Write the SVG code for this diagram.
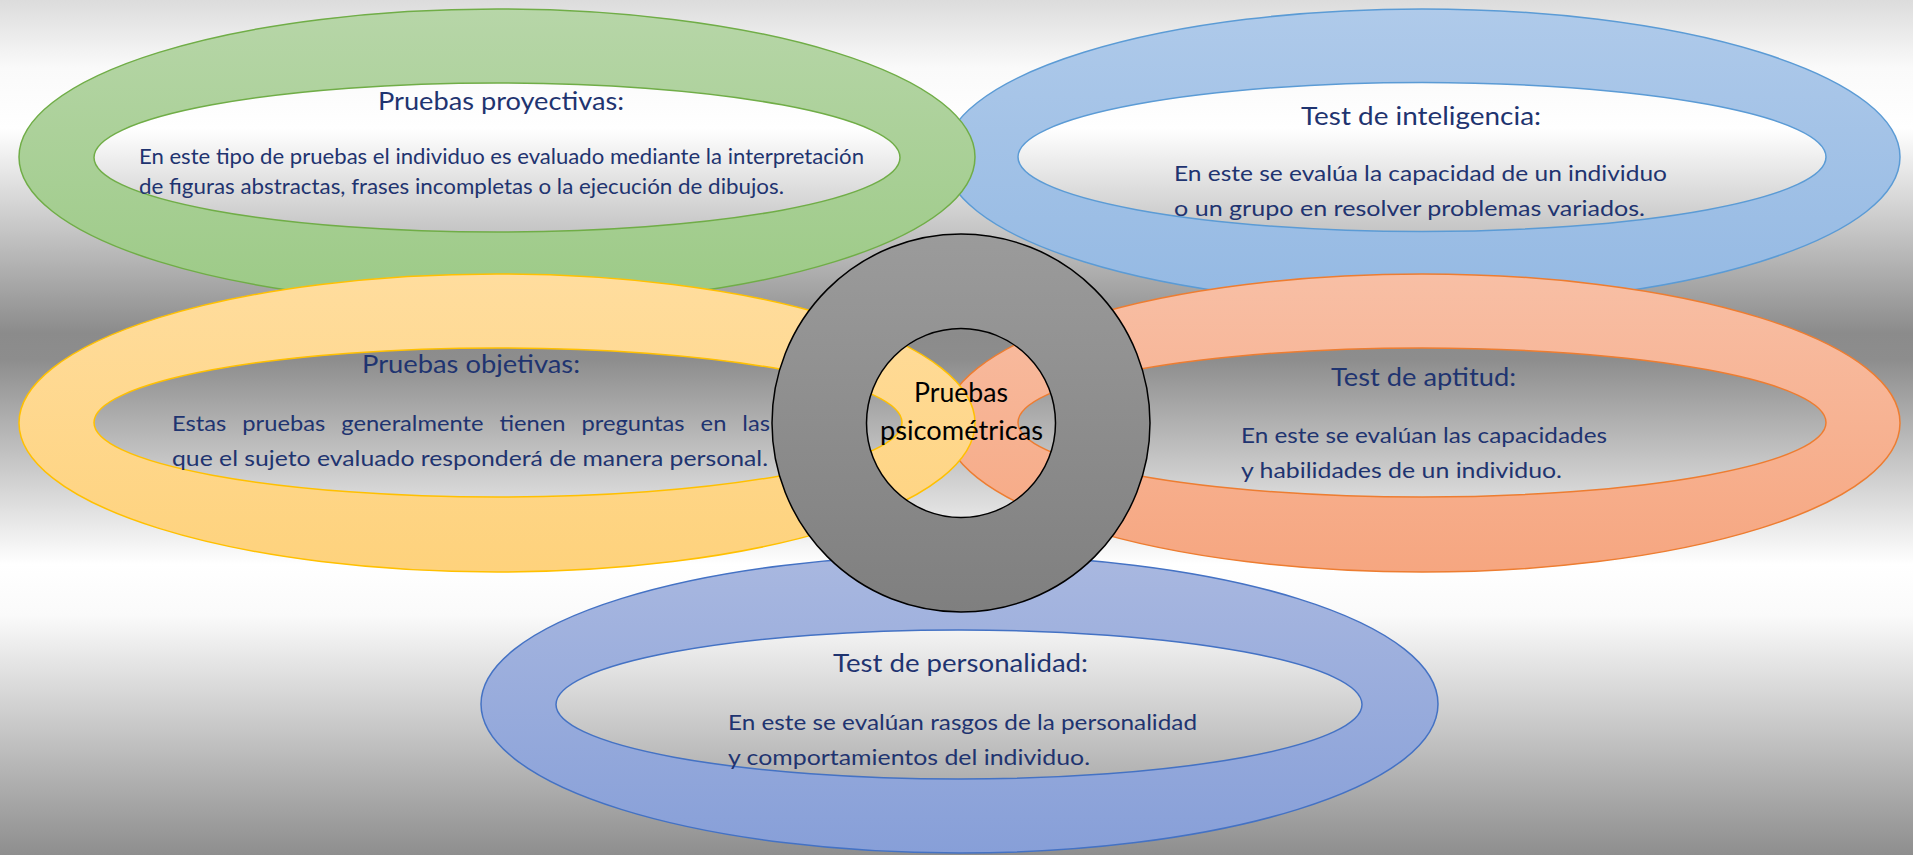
<svg xmlns="http://www.w3.org/2000/svg" width="1913" height="855" viewBox="0 0 1913 855">
  <defs>
    <linearGradient id="bg" x1="0" y1="0" x2="0" y2="855" gradientUnits="userSpaceOnUse">
      <stop offset="0" stop-color="#dcdcdc"/>
      <stop offset="0.08" stop-color="#fafafa"/>
      <stop offset="0.15" stop-color="#ffffff"/>
      <stop offset="0.39" stop-color="#8b8b8b"/>
      <stop offset="0.42" stop-color="#8d8d8d"/>
      <stop offset="0.66" stop-color="#ffffff"/>
      <stop offset="0.72" stop-color="#fafafa"/>
      <stop offset="1" stop-color="#8e8e8e"/>
    </linearGradient>
    <linearGradient id="gGreen" x1="0" y1="0" x2="0" y2="1">
      <stop offset="0" stop-color="#b7d6a8"/>
      <stop offset="1" stop-color="#9cca86"/>
    </linearGradient>
    <linearGradient id="gBlue" x1="0" y1="0" x2="0" y2="1">
      <stop offset="0" stop-color="#afcaea"/>
      <stop offset="1" stop-color="#94b9e3"/>
    </linearGradient>
    <linearGradient id="gYellow" x1="0" y1="0" x2="0" y2="1">
      <stop offset="0" stop-color="#ffdd9e"/>
      <stop offset="1" stop-color="#fed27c"/>
    </linearGradient>
    <linearGradient id="gOrange" x1="0" y1="0" x2="0" y2="1">
      <stop offset="0" stop-color="#f8bfa5"/>
      <stop offset="1" stop-color="#f6a680"/>
    </linearGradient>
    <linearGradient id="gPurple" x1="0" y1="0" x2="0" y2="1">
      <stop offset="0" stop-color="#a9b8e0"/>
      <stop offset="1" stop-color="#879fd8"/>
    </linearGradient>
    <linearGradient id="gGray" x1="0" y1="0" x2="0" y2="1">
      <stop offset="0" stop-color="#9b9b9b"/>
      <stop offset="1" stop-color="#7f7f7f"/>
    </linearGradient>
  </defs>
  <style>
    .ring { fill-rule: evenodd; stroke-width: 1.5; }
    .head { font-family: Lato, "Open Sans", sans-serif; font-size: 24.5px; fill: #1f3470; }
    .body { font-family: Lato, "Open Sans", sans-serif; font-size: 21.5px; fill: #1f3470; }
    .center { font-family: Lato, "Open Sans", sans-serif; font-size: 26px; fill: #000000; }
  </style>

  <rect x="0" y="0" width="1913" height="855" fill="url(#bg)"/>

  <g id="connectors"></g>

  <g id="node-inteligencia">
    <path class="ring" fill="url(#gBlue)" stroke="#5b9bd5"
      d="M944,157 A478,148 0 1,0 1900,157 A478,148 0 1,0 944,157 Z M1018,157 A404,74.5 0 1,0 1826,157 A404,74.5 0 1,0 1018,157 Z"/>
  </g>

  <g id="node-proyectivas">
    <path class="ring" fill="url(#gGreen)" stroke="#70ad47"
      d="M19,157 A478,148 0 1,0 975,157 A478,148 0 1,0 19,157 Z M94,157.5 A403,74.5 0 1,0 900,157.5 A403,74.5 0 1,0 94,157.5 Z"/>
  </g>

  <g id="node-aptitud">
    <path class="ring" fill="url(#gOrange)" stroke="#ed7d31"
      d="M944,423 A478,149 0 1,0 1900,423 A478,149 0 1,0 944,423 Z M1018,422.5 A404,74.5 0 1,0 1826,422.5 A404,74.5 0 1,0 1018,422.5 Z"/>
  </g>

  <g id="node-objetivas">
    <path class="ring" fill="url(#gYellow)" stroke="#ffc000"
      d="M19,423 A478,149 0 1,0 975,423 A478,149 0 1,0 19,423 Z M94,422.5 A404,74.5 0 1,0 902,422.5 A404,74.5 0 1,0 94,422.5 Z"/>
  </g>

  <g id="node-personalidad">
    <path class="ring" fill="url(#gPurple)" stroke="#4472c4"
      d="M481,704 A478.5,149 0 1,0 1438,704 A478.5,149 0 1,0 481,704 Z M556,704.5 A403,74.5 0 1,0 1362,704.5 A403,74.5 0 1,0 556,704.5 Z"/>
  </g>

  <g id="node-psicometricas">
    <path class="ring" fill="url(#gGray)" stroke="#000000"
      d="M772,423 A189,189 0 1,0 1150,423 A189,189 0 1,0 772,423 Z M866.5,423 A94.5,94.5 0 1,0 1055.5,423 A94.5,94.5 0 1,0 866.5,423 Z"/>
    <text class="center" x="914" y="402" textLength="94" lengthAdjust="spacingAndGlyphs">Pruebas</text>
    <text class="center" x="880" y="440" textLength="163" lengthAdjust="spacingAndGlyphs">psicométricas</text>
  </g>

  <g id="text-proyectivas">
    <text class="head" x="378" y="110" textLength="246" lengthAdjust="spacingAndGlyphs">Pruebas proyectivas:</text>
    <text class="body" x="139" y="164" textLength="725" lengthAdjust="spacingAndGlyphs">En este tipo de pruebas el individuo es evaluado mediante la interpretación</text>
    <text class="body" x="139" y="194" textLength="645" lengthAdjust="spacingAndGlyphs">de figuras abstractas, frases incompletas o la ejecución de dibujos.</text>
  </g>

  <g id="text-inteligencia">
    <text class="head" x="1301" y="125" textLength="240" lengthAdjust="spacingAndGlyphs">Test de inteligencia:</text>
    <text class="body" x="1174" y="181" textLength="493" lengthAdjust="spacingAndGlyphs">En este se evalúa la capacidad de un individuo</text>
    <text class="body" x="1174" y="216" textLength="471" lengthAdjust="spacingAndGlyphs">o un grupo en resolver problemas variados.</text>
  </g>

  <g id="text-objetivas">
    <text class="head" x="362" y="373" textLength="218" lengthAdjust="spacingAndGlyphs">Pruebas objetivas:</text>
    <text class="body" x="172" y="431" word-spacing="9" textLength="598" lengthAdjust="spacingAndGlyphs">Estas pruebas generalmente tienen preguntas en las</text>
    <text class="body" x="172" y="466" textLength="596" lengthAdjust="spacingAndGlyphs">que el sujeto evaluado responderá de manera personal.</text>
  </g>

  <g id="text-aptitud">
    <text class="head" x="1331" y="386" textLength="185" lengthAdjust="spacingAndGlyphs">Test de aptitud:</text>
    <text class="body" x="1241" y="443" textLength="366" lengthAdjust="spacingAndGlyphs">En este se evalúan las capacidades</text>
    <text class="body" x="1241" y="478" textLength="321" lengthAdjust="spacingAndGlyphs">y habilidades de un individuo.</text>
  </g>

  <g id="text-personalidad">
    <text class="head" x="833" y="672" textLength="255" lengthAdjust="spacingAndGlyphs">Test de personalidad:</text>
    <text class="body" x="728" y="730" textLength="469" lengthAdjust="spacingAndGlyphs">En este se evalúan rasgos de la personalidad</text>
    <text class="body" x="728" y="765" textLength="362" lengthAdjust="spacingAndGlyphs">y comportamientos del individuo.</text>
  </g>
</svg>
